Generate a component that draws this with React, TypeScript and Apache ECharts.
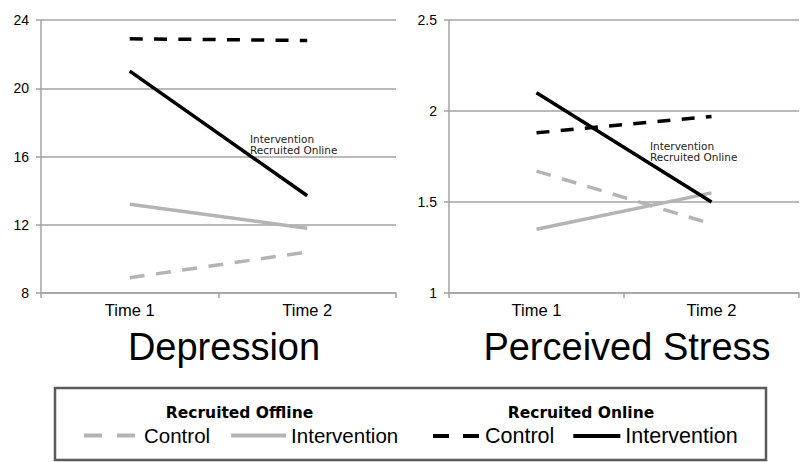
import React, { useEffect, useRef } from "react";
import * as echarts from "echarts";

const categories = ["Time 1", "Time 2"];

// Depression (left panel)
const depOfflineControl = [8.9, 10.4];
const depOfflineIntervention = [13.2, 11.8];
const depOnlineControl = [22.9, 22.8];
const depOnlineIntervention = [21.0, 13.7];

// Perceived Stress (right panel)
const stressOfflineControl = [1.67, 1.38];
const stressOfflineIntervention = [1.35, 1.55];
const stressOnlineControl = [1.88, 1.97];
const stressOnlineIntervention = [2.1, 1.5];

const panelTitles = ["Depression", "Perceived Stress"];
const groupHeaders = ["Recruited Offline", "Recruited Online"];
const annotation = "Intervention\nRecruited Online";

const GRAY = "#b4b4b4";
const BLACK = "#000000";
const GRID = "#a3a3a3";

const styles: Record<string, any> = {
  "Offline Control": { color: GRAY, type: [15, 11.5] },
  "Offline Intervention": { color: GRAY, type: "solid" },
  "Online Control": { color: BLACK, type: [13, 11.3] },
  "Online Intervention": { color: BLACK, type: "solid" },
};

function mkSeries(name: string, data: number[], idx: number) {
  return {
    name,
    type: "line",
    xAxisIndex: idx,
    yAxisIndex: idx,
    data,
    symbol: "none",
    showSymbol: false,
    silent: true,
    lineStyle: { color: styles[name].color, type: styles[name].type, width: 3.5, cap: "butt" },
    itemStyle: { color: styles[name].color },
  };
}

export default function App() {
  const ref = useRef<HTMLDivElement>(null);
  useEffect(() => {
    document.body.style.margin = "0";
    const chart = echarts.init(ref.current!, null, { renderer: "svg" });
    const axisFont = "'Liberation Sans', Arial, sans-serif";
    const xAxisBase = {
      type: "category",
      data: categories,
      boundaryGap: true,
      axisLine: { lineStyle: { color: GRID, width: 1.5 } },
      axisTick: { show: true, length: 5, lineStyle: { color: GRID, width: 1.5 } },
      axisLabel: { fontSize: 16.5, color: "#000", fontFamily: axisFont, margin: 8 },
    };
    const yAxisBase = {
      type: "value",
      axisLine: { show: true, lineStyle: { color: GRID, width: 1.5 } },
      axisTick: { show: true, length: 5, lineStyle: { color: GRID, width: 1.5 } },
      splitLine: { show: true, lineStyle: { color: GRID, width: 1.5 } },
      axisLabel: { fontSize: 14, color: "#000", fontFamily: axisFont, margin: 12 },
    };
    const hidden = { opacity: 0 };
    const legendBase = {
      orient: "horizontal",
      top: 425,
      padding: 0,
      itemHeight: 14,
      textStyle: { fontSize: 20.5, color: "#000", fontFamily: axisFont },
      formatter: (n: string) => n.replace(/^(Offline|Online) /, ""),
      selectedMode: false,
    };
    chart.setOption({
      animation: false,
      backgroundColor: "#fff",
      grid: [
        { left: 41, top: 20, width: 355, height: 273 },
        { left: 449, top: 20, width: 350, height: 273 },
      ],
      xAxis: [
        { ...xAxisBase, gridIndex: 0 },
        { ...xAxisBase, gridIndex: 1 },
      ],
      yAxis: [
        { ...yAxisBase, gridIndex: 0, min: 8, max: 24, interval: 4 },
        { ...yAxisBase, gridIndex: 1, min: 1, max: 2.5, interval: 0.5 },
      ],
      title: [
        {
          text: panelTitles[0], left: 219, top: 323, textAlign: "center",
          textStyle: { fontSize: 38, fontWeight: "normal", color: "#000", fontFamily: axisFont },
        },
        {
          text: panelTitles[1], left: 622, top: 323, textAlign: "center",
          textStyle: { fontSize: 38, fontWeight: "normal", color: "#000", fontFamily: axisFont },
        },
      ],
      legend: [
        {
          ...legendBase,
          left: 82,
          itemWidth: 55,
          itemGap: 19,
          data: [
            { name: "Offline Control", lineStyle: { type: [18, 15], width: 4 }, itemStyle: hidden },
            { name: "Offline Intervention", lineStyle: { width: 4 }, itemStyle: hidden },
          ],
        },
        {
          ...legendBase,
          left: 431,
          itemWidth: 47,
          itemGap: 17,
          textStyle: { fontSize: 21.5, color: "#000", fontFamily: axisFont },
          data: [
            { name: "Online Control", lineStyle: { type: [16, 14], width: 4 }, itemStyle: hidden },
            { name: "Online Intervention", lineStyle: { width: 4 }, itemStyle: hidden },
          ],
        },
      ],
      graphic: [
        {
          type: "rect",
          shape: { x: 55, y: 388, width: 711, height: 72 },
          style: { fill: "rgba(0,0,0,0)", stroke: "#5a5a5a", lineWidth: 2.5 },
          silent: true,
        },
        {
          type: "text", x: 239.5, y: 413,
          style: { text: groupHeaders[0], fill: "#000", font: "bold 15.5px 'DejaVu Sans', sans-serif", textAlign: "center", textVerticalAlign: "middle" },
        },
        {
          type: "text", x: 581, y: 413,
          style: { text: groupHeaders[1], fill: "#000", font: "bold 15.5px 'DejaVu Sans', sans-serif", textAlign: "center", textVerticalAlign: "middle" },
        },
        {
          type: "text", x: 250, y: 133,
          style: { text: annotation, fill: "#222", font: "10.5px 'DejaVu Sans', sans-serif", lineHeight: 11.5 },
        },
        {
          type: "text", x: 650, y: 140,
          style: { text: annotation, fill: "#222", font: "10.5px 'DejaVu Sans', sans-serif", lineHeight: 11.5 },
        },
      ],
      series: [
        mkSeries("Offline Control", depOfflineControl, 0),
        mkSeries("Offline Intervention", depOfflineIntervention, 0),
        mkSeries("Online Control", depOnlineControl, 0),
        mkSeries("Online Intervention", depOnlineIntervention, 0),
        mkSeries("Offline Control", stressOfflineControl, 1),
        mkSeries("Offline Intervention", stressOfflineIntervention, 1),
        mkSeries("Online Control", stressOnlineControl, 1),
        mkSeries("Online Intervention", stressOnlineIntervention, 1),
      ],
    });
    return () => chart.dispose();
  }, []);
  return (
    <div
      ref={ref}
      style={{ width: 800, height: 462, position: "absolute", left: 0, top: 0 }}
    />
  );
}
